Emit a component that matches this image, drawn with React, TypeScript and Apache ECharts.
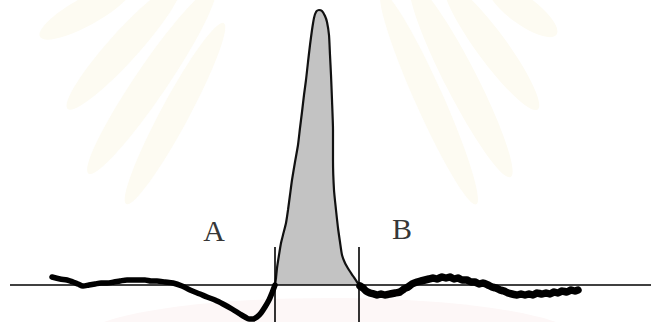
import React, { useEffect, useRef } from "react";
import * as echarts from "echarts";

// Chromatogram trace: time on x, detector signal on y (baseline = 0).
const leftTrace: [number, number][] = [
  [52, 8], [60, 6], [67, 5], [73, 3], [78, 1], [83, -1], [89, 0], [95, 1], [101, 2],
  [107, 2], [114, 3], [120, 4], [127, 5], [133, 5], [140, 5], [145, 5], [151, 4],
  [157, 4], [165, 3], [173, 2], [182, -1], [190, -5], [200, -9], [207, -12],
  [215, -15], [223, -19], [232, -24], [240, -29], [245, -32], [249, -34], [253, -34],
  [257, -32], [261, -28], [265, -22], [269, -15], [272, -8], [275, 0],
];

const peakTrace: [number, number][] = [
  [275, 0], [276, 7], [277, 17], [279, 30], [281, 42], [283, 50], [286, 62],
  [288, 75], [290, 90], [292, 105], [295, 123], [298, 140], [300, 157], [302, 173],
  [304, 190], [306, 205], [308, 223], [310, 240], [312, 255], [314, 267], [316, 273],
  [319, 275], [322, 274], [325, 269], [327, 263], [329, 250], [330, 230], [331, 210],
  [332, 185], [333, 155], [333, 125], [334, 95], [336, 75], [338, 57], [340, 43],
  [342, 30], [345, 22], [349, 15], [353, 9], [357, 3], [360, -1],
];

const rightTrace: [number, number][] = [
  [360, -1], [363, -3], [366, -6], [370, -8], [374, -9], [377, -10], [381, -9],
  [385, -10], [390, -9], [395, -8], [400, -7], [404, -4], [408, -2], [412, 1],
  [417, 3], [421, 4], [425, 5], [429, 6], [433, 7], [437, 6], [442, 8], [446, 7],
  [450, 8], [454, 6], [458, 7], [462, 5], [467, 5], [471, 3], [475, 3], [479, 1],
  [483, 2], [488, 0], [492, -2], [496, -3], [500, -5], [504, -6], [508, -8],
  [512, -9], [517, -10], [521, -9], [525, -10], [529, -9], [533, -10], [537, -8],
  [542, -9], [546, -8], [550, -9], [554, -7], [558, -8], [562, -6], [567, -7],
  [571, -5], [575, -6], [578, -5],
];

// Integration limits of the peak
const limits: number[] = [275, 359];
const limitTop = 38;
const axisMin = -37;
const axisMax = 285;
const timeMax = 651;
const baselineStart = 10;

const regionLabels = [
  { name: "A", value: [214, 55] },
  { name: "B", value: [402, 57] },
];

// Faint emblem rays in the background: [x1, y1, x2, y2, halfWidth]
const rays: number[][] = [
  [47, 33, 125, -10, 14],
  [73, 103, 175, -10, 15],
  [93, 167, 210, -5, 16],
  [130, 197, 220, 30, 14],
  [550, 30, 495, -10, 14],
  [533, 103, 450, -10, 15],
  [507, 170, 415, -10, 16],
  [473, 197, 385, 0, 14],
];

function rayGraphics() {
  return rays.map(([x1, y1, x2, y2, w]) => {
    const dx = x2 - x1;
    const dy = y2 - y1;
    const len = Math.sqrt(dx * dx + dy * dy);
    return {
      type: "ellipse",
      x: (x1 + x2) / 2,
      y: (y1 + y2) / 2,
      rotation: -Math.atan2(dy, dx),
      shape: { cx: 0, cy: 0, rx: len / 2 + 8, ry: w },
      style: { fill: "#fdfbf2" },
      silent: true,
      z: -10,
    };
  });
}

export default function App() {
  const ref = useRef<HTMLDivElement>(null);

  useEffect(() => {
    if (!ref.current) return;
    const chart = echarts.init(ref.current, null, { renderer: "svg" });

    const limitSeries = limits.map((t, i) => ({
      type: "line",
      name: "limit" + i,
      data: [
        [t, limitTop],
        [t, axisMin],
      ],
      symbol: "none",
      lineStyle: { color: "#000", width: 1.6 },
      z: 4,
    }));

    chart.setOption({
      animation: false,
      backgroundColor: "#ffffff",
      grid: { left: 0, right: 0, top: 0, bottom: 0 },
      xAxis: {
        type: "value",
        min: 0,
        max: timeMax,
        show: false,
      },
      yAxis: {
        type: "value",
        min: axisMin,
        max: axisMax,
        show: false,
      },
      graphic: [
        ...rayGraphics(),
        {
          type: "ellipse",
          x: 330,
          y: 340,
          shape: { cx: 0, cy: 0, rx: 250, ry: 42 },
          style: { fill: "#fdf7f7" },
          silent: true,
          z: -10,
        },
      ],
      series: [
        {
          type: "line",
          name: "baseline",
          data: [
            [baselineStart, 0],
            [timeMax, 0],
          ],
          symbol: "none",
          lineStyle: { color: "#000", width: 1.6 },
          z: 3,
        },
        ...limitSeries,
        {
          type: "line",
          name: "peak",
          data: peakTrace,
          symbol: "none",
          smooth: 0.2,
          lineStyle: { color: "#111", width: 2.2 },
          areaStyle: { color: "#c3c3c3", opacity: 1 },
          z: 2,
        },
        {
          type: "line",
          name: "before",
          data: leftTrace,
          symbol: "none",
          smooth: 0.3,
          lineStyle: { color: "#000", width: 5.5, cap: "round", join: "round" },
          z: 5,
        },
        {
          type: "line",
          name: "after",
          data: rightTrace,
          symbol: "none",
          smooth: 0.1,
          lineStyle: { color: "#000", width: 7.5, cap: "round", join: "round" },
          z: 5,
        },
        {
          type: "scatter",
          name: "regions",
          data: regionLabels,
          symbolSize: 0,
          label: {
            show: true,
            position: "inside",
            formatter: "{b}",
            color: "#000",
            fontFamily: "Liberation Serif",
            fontSize: 30,
          },
          z: 6,
        },
      ],
    });

    return () => chart.dispose();
  }, []);

  return (
    <div
      ref={ref}
      style={{ position: "absolute", left: 0, top: 0, width: 651, height: 322 }}
    />
  );
}
